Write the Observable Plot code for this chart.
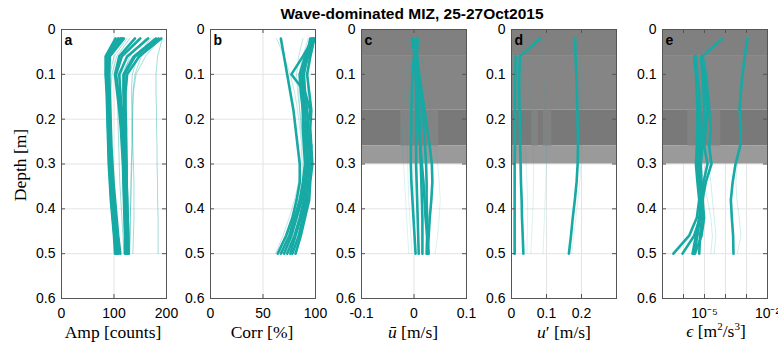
<!DOCTYPE html>
<html><head><meta charset="utf-8">
<script src="https://cdn.jsdelivr.net/npm/d3@7"></script>
<script src="https://cdn.jsdelivr.net/npm/@observablehq/plot@0.6"></script>
<style>
body{margin:0;background:#fff;}
#root{position:relative;width:778px;height:345px;overflow:hidden;background:#fff;font-family:"Liberation Sans",Arial,sans-serif;}
.panel{position:absolute;top:26px;}
.title{position:absolute;left:412px;top:5px;transform:translateX(-50%);font-weight:bold;font-size:15.5px;white-space:nowrap;color:#000;}
.xlab{position:absolute;top:322px;transform:translateX(-50%);font-family:"Liberation Serif","Times New Roman",serif;font-size:17.5px;white-space:nowrap;color:#000;}
.xlab sup{font-size:11px;}
.ylab{position:absolute;left:20px;top:165px;transform:translate(-50%,-50%) rotate(-90deg);font-family:"Liberation Serif","Times New Roman",serif;font-size:17.5px;white-space:nowrap;color:#000;}
</style></head>
<body><div id="root">
<div class="ylab">Depth [m]</div>
<div class="xlab" style="left:113px">Amp [counts]</div>
<div class="xlab" style="left:262px">Corr [%]</div>
<div class="xlab" style="left:413px"><i>ū</i> [m/s]</div>
<div class="xlab" style="left:564px"><i>u</i>′ [m/s]</div>
<div class="xlab" style="left:716px;top:320px"><i>ϵ</i> [m<sup>2</sup>/s<sup>3</sup>]</div>
</div>
<script>
// ---- data ----
const depth = [0.02,0.06,0.10,0.14,0.18,0.22,0.26,0.30,0.34,0.38,0.42,0.46,0.50];
const depthTicks = [0,0.1,0.2,0.3,0.4,0.5,0.6];
const ampTicks = [0,100,200];
const corrTicks = [0,50,100];
const ubarTicks = [-0.1,0,0.1];
const uprimeTicks = [0,0.1,0.2];
const uprimeGrid = [0,0.1,0.2,0.3];
const epsTicks = [1e-5,1e-2];
const epsGrid = [1e-7,1e-6,1e-5,1e-4,1e-3,1e-2];

// shaded (gray) depth bands in panels c-e, with their gray level (0 black, 1 white)
const bandTop = [0,0.06,0.18,0.26];
const bandBottom = [0.06,0.18,0.26,0.30];
const bandLevel = [0.503,0.52,0.475,0.604];
// lighter patches inside the 0.18-0.26 band
const patchPanel = ["c","d","d","e"];
const patchX1 = [-0.025,0.058,0.091,1.6e-6];
const patchX2 = [0.047,0.077,0.115,6.0e-5];
const patchLevel = [0.515,0.51,0.51,0.51];

const ampThick = [
 [103,84,84,86,87,88,89,90,92,94,97,100,102],
 [108,86,85,87,88,89,90,92,94,96,99,102,105],
 [112,88,87,88,89,90,92,94,96,98,101,104,107],
 [116,90,89,90,91,92,93,95,97,100,103,106,109],
 [119,92,91,92,93,94,95,97,99,102,105,108,112],
 [114,89,86,87,88,89,90,91,93,95,98,101,104],
 [150,115,104,108,112,115,117,118,119,120,121,122,122],
 [165,125,110,112,115,117,118,119,120,121,122,123,124],
 [180,138,118,118,119,120,121,121,122,123,124,125,126],
 [190,148,125,122,122,123,123,124,124,125,126,127,128],
 [140,110,102,106,110,113,115,117,118,119,120,121,121],
 [185,140,120,120,121,122,123,123,124,125,126,127,127]
];
const ampThin = [
 [192,183,180,180,181,181,182,182,183,183,184,184,184],
 [175,152,140,136,135,134,134,133,132,132,131,131,130],
 [170,145,135,133,134,135,136,137,138,138,138,137,136],
 [130,105,96,94,94,95,96,98,100,102,104,107,110],
 [160,130,118,115,114,114,115,116,117,118,119,120,121],
 [188,160,142,137,136,135,135,134,133,132,131,130,129],
 [178,135,112,108,107,108,109,110,111,113,115,117,119],
 [125,100,92,91,92,93,95,97,99,101,104,107,111]
];
const corrThick = [
 [67,70,73,76,79,81,83,85,85,82,78,72,64],
 [98,88,77,90,95,92,96,93,90,91,86,81,76],
 [98,93,88,88,90,91,92,93,91,89,85,80,73],
 [96,90,85,86,88,89,91,92,90,87,82,77,70],
 [95,92,89,90,92,93,94,95,93,92,88,84,78],
 [97,91,86,87,88,88,89,90,88,85,80,75,67],
 [99,95,92,94,96,95,96,97,95,94,90,86,81]
];
const corrThin = [
 [63,70,76,80,83,85,87,86,84,80,75,69,62],
 [93,88,84,84,85,86,88,88,86,83,78,73,68],
 [99,96,93,92,93,94,95,96,95,93,90,85,80],
 [88,84,82,83,85,87,89,90,88,86,82,78,72]
];
const ubarThick = [
 [0.005,0.000,-0.003,-0.004,-0.005,-0.005,-0.006,-0.006,-0.005,-0.003,-0.001,0.001,0.003],
 [-0.004,0.002,0.003,0.004,0.004,0.004,0.004,0.004,0.005,0.006,0.007,0.008,0.009],
 [0.007,0.004,0.006,0.008,0.010,0.011,0.012,0.013,0.014,0.015,0.016,0.016,0.016],
 [-0.002,0.004,0.008,0.012,0.016,0.019,0.021,0.023,0.024,0.024,0.025,0.025,0.024],
 [0.006,0.006,0.010,0.015,0.020,0.025,0.030,0.034,0.035,0.033,0.030,0.028,0.026],
 [0.003,0.002,0.004,0.006,0.008,0.010,0.012,0.015,0.018,0.020,0.022,0.025,0.028]
];
const ubarThin = [
 [-0.010,-0.012,-0.015,-0.018,-0.020,-0.022,-0.022,-0.020,-0.018,-0.016,-0.014,-0.012,-0.010],
 [0.010,0.015,0.020,0.025,0.030,0.035,0.040,0.045,0.048,0.050,0.048,0.045,0.040],
 [0.000,-0.005,-0.008,-0.010,-0.012,-0.013,-0.013,-0.012,-0.011,-0.010,-0.008,-0.006,-0.004]
];
const uprimeThick = [
 [0.081,0.024,0.022,0.022,0.023,0.024,0.025,0.026,0.027,0.029,0.030,0.032,0.034],
 [null,0.012,0.011,0.010,0.010,0.010,0.010,0.009,0.009,0.009,0.009,0.009,0.009],
 [0.182,0.183,0.185,0.187,0.188,0.189,0.190,0.189,0.186,0.181,0.175,0.170,0.164]
];
const uprimeThin = [
 [0.195,0.196,0.197,0.198,0.199,0.200,0.200,0.198,0.195,0.190,0.184,0.178,0.172],
 [0.050,0.050,0.052,0.055,0.058,0.060,0.062,0.063,0.063,0.062,0.060,0.058,0.055],
 [0.090,0.090,0.092,0.095,0.097,0.098,0.100,0.100,0.098,0.096,0.094,0.092,0.090],
 [0.030,0.030,0.032,0.034,0.036,0.038,0.040,0.042,0.044,0.046,0.046,0.045,0.044]
];
const epsThick = [
 [1.12e-3,8.3e-4,6.5e-4,5.4e-4,4.7e-4,5.5e-4,5.0e-4,3.0e-4,2.2e-4,1.8e-4,2.0e-4,2.3e-4,2.4e-4],
 [7.2e-5,8.0e-6,9.6e-6,1.16e-5,1.39e-5,1.16e-5,9.6e-6,1.39e-5,9.0e-6,7.2e-6,5.6e-6,3.9e-6,2.7e-6],
 [null,3.2e-6,3.9e-6,4.3e-6,4.6e-6,4.6e-6,4.3e-6,3.9e-6,4.6e-6,5.6e-6,4.3e-6,1.86e-6,3.3e-7],
 [null,8.0e-6,1.16e-5,1.39e-5,1.67e-5,2.0e-5,1.67e-5,2.15e-5,1.16e-5,8.0e-6,6.2e-6,3.2e-6,9.0e-7],
 [null,3.5e-6,4.3e-6,5.6e-6,6.2e-6,6.7e-6,6.2e-6,5.6e-6,6.2e-6,6.7e-6,6.0e-6,4.6e-6,3.2e-6],
 [null,6.7e-6,8.0e-6,9.0e-6,9.6e-6,9.0e-6,8.0e-6,6.7e-6,7.2e-6,8.0e-6,7.5e-6,6.2e-6,5.6e-6],
 [null,3.9e-6,4.6e-6,5.0e-6,5.4e-6,5.6e-6,5.0e-6,4.3e-6,5.6e-6,8.0e-6,9.6e-6,7.2e-6,3.5e-6]
];
const epsThin = [
 [1.39e-5,1.16e-5,1.39e-5,1.67e-5,2.0e-5,2.0e-5,1.9e-5,1.67e-5,2.0e-5,2.4e-5,2.9e-5,3.5e-5,2.9e-5],
 [4.6e-6,4.3e-6,5.0e-6,5.6e-6,6.2e-6,6.7e-6,7.2e-6,6.2e-6,9.6e-6,1.39e-5,2.0e-5,2.4e-5,2.0e-5],
 [9.3e-4,7.2e-4,5.4e-4,4.5e-4,3.7e-4,4.5e-4,5.0e-4,3.7e-4,3.1e-4,3.5e-4,4.5e-4,5.4e-4,3.7e-4]
];

// ---- drawing ----
const TEAL = "#17a9a4";
const bands = bandTop.map((t,i)=>({top:t, bottom:bandBottom[i], level:bandLevel[i]}));
const patches = patchPanel.map((p,i)=>({panel:p, x1:patchX1[i], x2:patchX2[i], top:bandTop[2], bottom:bandBottom[2], level:patchLevel[i]}));
function rows(profiles){
  const out=[];
  profiles.forEach((p,i)=>p.forEach((v,j)=>out.push({id:i, depth:depth[j], value:v})));
  return out;
}
const sup = {"-":"⁻","0":"⁰","1":"¹","2":"²","3":"³","4":"⁴","5":"⁵","6":"⁶","7":"⁷","8":"⁸","9":"⁹"};
const powFmt = d => "10" + String(Math.round(Math.log10(d))).split("").map(c=>sup[c]).join("");

function panel(o){
  const W=105, H=269, mL=44, mR=18, mT=3, mB=22;
  const marks = [
    Plot.ruleY(depthTicks.slice(1,-1), {y:d=>d, stroke:"#e4e4e4", strokeWidth:1}),
    Plot.ruleX(o.grid, {x:d=>d, stroke:"#e4e4e4", strokeWidth:1})
  ];
  if (o.shaded) {
    marks.push(Plot.rect(bands, {y1:"top", y2:"bottom", fill:"level"}));
    marks.push(Plot.rect(patches.filter(p=>p.panel===o.letter), {x1:"x1", x2:"x2", y1:"top", y2:"bottom", fill:"level"}));
  }
  marks.push(
    Plot.line(rows(o.thin), {x:"value", y:"depth", z:"id", stroke:TEAL, strokeWidth:0.8, strokeOpacity:o.thinOpacity}),
    Plot.line(rows(o.thick), {x:"value", y:"depth", z:"id", stroke:TEAL, strokeWidth:2.6}),
    Plot.tickY(depthTicks, {y:d=>d, stroke:"#555", insetRight:W-4}),
    Plot.tickY(depthTicks, {y:d=>d, stroke:"#555", insetLeft:W-4}),
    Plot.tickX(o.grid, {x:d=>d, stroke:"#555", insetBottom:H-4}),
    Plot.tickX(o.grid, {x:d=>d, stroke:"#555", insetTop:H-4}),
    Plot.frame({stroke:"#555", strokeWidth:1}),
    Plot.text([o.letter], {text:d=>d, frameAnchor:"top-left", dx:3, dy:6, fontWeight:"bold", fontSize:14, fill:"#000"})
  );
  const svg = Plot.plot({
    width:mL+W+mR, height:mT+H+mB,
    marginLeft:mL, marginRight:mR, marginTop:mT, marginBottom:mB,
    style:{fontSize:"14px", fontFamily:"Liberation Sans, Arial, sans-serif", background:"transparent", overflow:"visible", color:"#000"},
    x:{...o.x, ticks:o.ticks, tickFormat:o.fmt || (d=>String(d)), tickSize:0, tickPadding:10, label:null},
    y:{domain:[0,0.6], reverse:true, ticks:depthTicks, tickFormat:d=>String(d), tickSize:0, tickPadding:6, label:null},
    color:{type:"linear", domain:[0,1], range:["#000000","#ffffff"]},
    marks
  });
  svg.classList.add("panel");
  svg.style.left = (o.left - mL) + "px";
  document.getElementById("root").appendChild(svg);
}

panel({left:61, letter:"a", x:{domain:[0,200]}, ticks:ampTicks, grid:ampTicks, thick:ampThick, thin:ampThin, thinOpacity:0.5});
panel({left:210, letter:"b", x:{domain:[0,100]}, ticks:corrTicks, grid:corrTicks, thick:corrThick, thin:corrThin, thinOpacity:0.35});
panel({left:361, letter:"c", x:{domain:[-0.1,0.1]}, ticks:ubarTicks, grid:ubarTicks, thick:ubarThick, thin:ubarThin, thinOpacity:0.2, shaded:true});
panel({left:511, letter:"d", x:{domain:[0,0.3]}, ticks:uprimeTicks, grid:uprimeGrid, thick:uprimeThick, thin:uprimeThin, thinOpacity:0.2, shaded:true});
panel({left:662, letter:"e", x:{type:"log", domain:[1e-7,1e-2]}, ticks:epsTicks, grid:epsGrid, thick:epsThick, thin:epsThin, thinOpacity:0.25, shaded:true, fmt:powFmt});

// title drawn last so it sits above the panels
const t = document.createElement("div");
t.className = "title";
t.textContent = "Wave-dominated MIZ, 25-27Oct2015";
document.getElementById("root").appendChild(t);
</script>
</body></html>
